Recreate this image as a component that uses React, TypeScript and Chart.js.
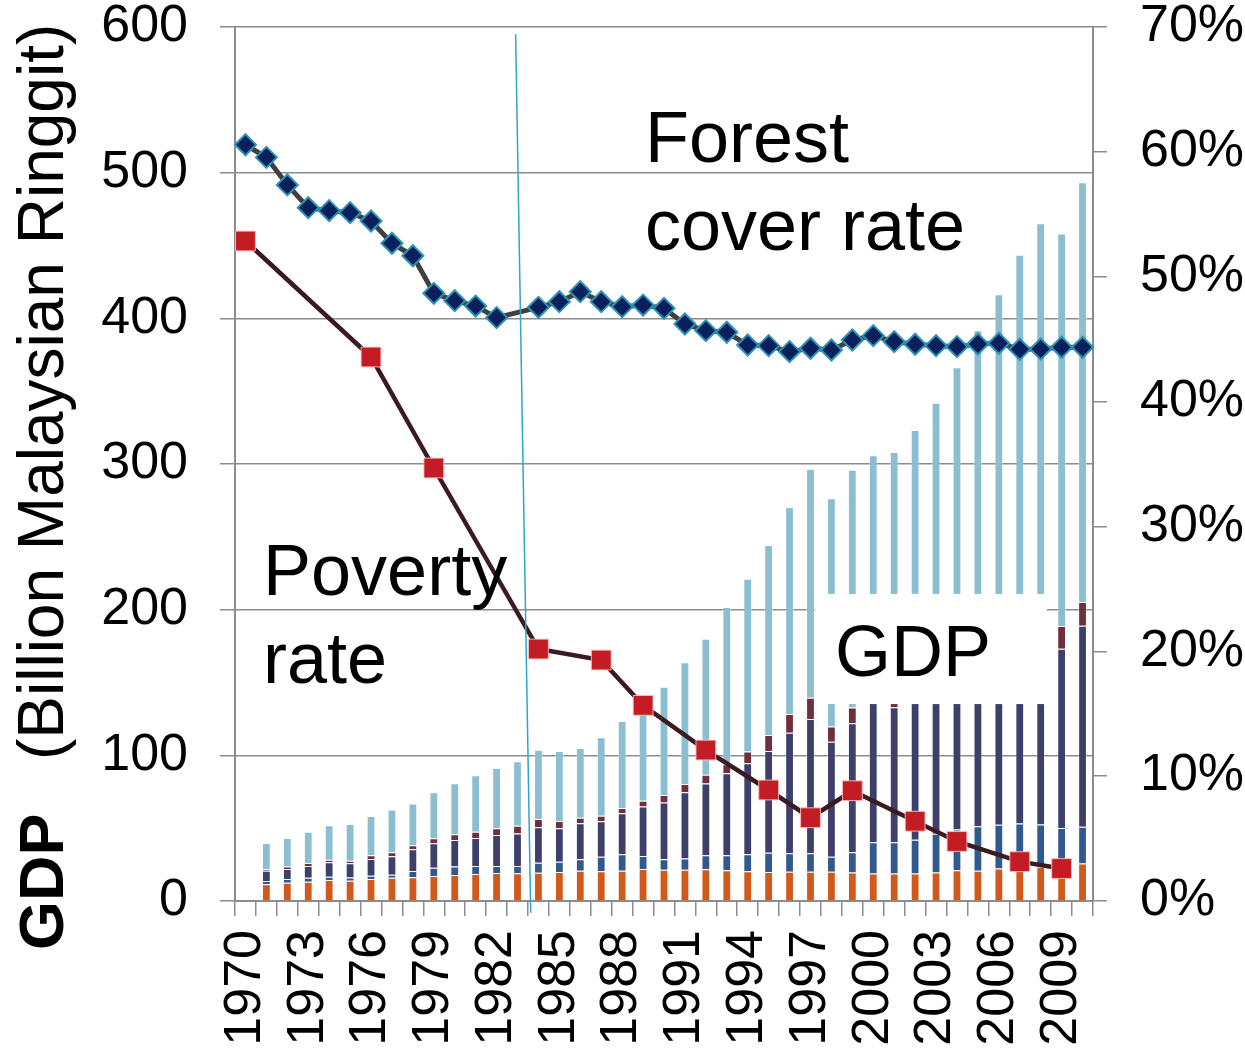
import React, { useEffect, useRef } from 'react';
import { Chart, registerables } from 'chart.js';

Chart.register(...registerables);

// ---------- DATA ----------
const years = [
  '1970', '1971', '1972', '1973', '1974', '1975', '1976', '1977', '1978', '1979',
  '1980', '1981', '1982', '1983', '1984', '1985', '1986', '1987', '1988', '1989',
  '1990', '1991', '1992', '1993', '1994', '1995', '1996', '1997', '1998', '1999',
  '2000', '2001', '2002', '2003', '2004', '2005', '2006', '2007', '2008', '2009', '2010',
];

const shownYearLabels = [
  '1970', '1973', '1976', '1979', '1982', '1985', '1988', '1991', '1994', '1997',
  '2000', '2003', '2006', '2009',
];

// GDP by sector, billion RM (stacked bars, 1971-2010)
const gdpAgriculture = [
  null, 11.5, 12.6, 13.2, 14.4, 13.9, 15.1, 16.0, 16.3, 17.2,
  17.9, 18.5, 19.2, 19.0, 19.4, 19.9, 20.8, 20.4, 20.8, 22.0,
  21.5, 21.5, 21.8, 21.1, 20.4, 19.9, 20.1, 20.0, 20.0, 19.5,
  18.8, 18.8, 18.8, 19.5, 21.1, 20.7, 22.3, 23.5, 23.5, 22.3, 25.8,
];
const gdpMining = [
  null, 2.3, 2.5, 2.8, 2.3, 2.3, 2.3, 2.1, 4.3, 5.7,
  5.7, 5.5, 4.8, 5.0, 6.9, 7.1, 7.8, 10.0, 11.3, 8.9,
  7.1, 7.6, 9.6, 10.3, 11.7, 13.3, 12.6, 12.8, 10.4, 13.9,
  21.6, 21.6, 23.2, 26.7, 27.9, 30.7, 30.1, 29.7, 29.0, 27.9, 25.1,
];
const gdpManufacturing = [
  null, 6.9, 6.9, 8.0, 9.9, 9.8, 11.5, 12.6, 14.9, 16.7,
  18.3, 19.2, 21.3, 22.4, 24.3, 22.9, 24.7, 24.3, 28.1, 33.9,
  39.1, 45.6, 49.2, 56.3, 62.5, 69.8, 82.8, 92.2, 79.0, 88.7,
  98.6, 92.6, 108.0, 118.8, 131.0, 136.6, 139.6, 141.0, 143.5, 123.0, 138.0,
];
const gdpConstruction = [
  null, 1.2, 1.6, 2.1, 1.8, 1.6, 2.5, 2.7, 2.7, 3.4,
  3.9, 4.3, 4.6, 5.2, 5.7, 5.0, 3.8, 3.8, 3.6, 4.1,
  5.0, 5.7, 6.0, 6.2, 8.0, 11.0, 12.8, 14.6, 10.4, 10.8,
  9.0, 10.0, 10.0, 12.0, 13.0, 14.0, 14.0, 13.0, 12.0, 15.6, 16.3,
];
const gdpServices = [
  null, 17.9, 19.7, 21.5, 23.6, 25.2, 27.0, 29.5, 28.8, 31.6,
  35.0, 38.9, 41.4, 44.4, 47.6, 48.1, 48.0, 54.0, 59.7, 65.1,
  74.3, 83.5, 93.4, 108.0, 118.6, 130.4, 142.1, 157.1, 156.7, 163.2,
  158.0, 165.2, 163.3, 165.1, 173.4, 189.8, 210.5, 236.5, 257.2, 269.4, 288.2,
];

// Forest cover rate (%)
const forestCover = [
  60.57, 59.56, 57.35, 55.53, 55.29, 55.13, 54.46, 52.68, 51.68, 48.67,
  48.08, 47.65, 46.72, null, 47.55, 48.00, 48.80, 48.00, 47.60, 47.73,
  47.47, 46.21, 45.68, 45.55, 44.53, 44.48, 44.00, 44.27, 44.13, 44.93,
  45.28, 44.80, 44.59, 44.48, 44.40, 44.61, 44.67, 44.19, 44.21, 44.35, 44.35,
];

// Poverty rate (%)
const povertyRate = [
  52.86, null, null, null, null, null, 43.57, null, null, 34.68,
  null, null, null, null, 20.18, null, null, 19.30, null, 15.67,
  null, null, 12.09, null, null, 8.89, null, 6.67, null, 8.83,
  null, null, 6.39, null, 4.77, null, null, 3.15, null, 2.60, null,
];

const FONT = '"Liberation Sans", Arial, Helvetica, sans-serif';
const GRID = '#8c8c8c';
const TICK_SIZE = 52;
const PLOT_TOP = 27; // wanted top of plot area on the page

const overlayPlugin = {
  id: 'overlay',
  afterDraw(chart: any) {
    const { ctx, chartArea, scales } = chart;
    const xs = scales.x;
    const ys = scales.y;
    ctx.save();

    // White label box for "GDP"
    const bx0 = xs.getPixelForValue(27.21);
    const bx1 = xs.getPixelForValue(38.3);
    const by0 = ys.getPixelForValue(210.8);
    const by1 = ys.getPixelForValue(135.2);
    ctx.fillStyle = '#ffffff';
    ctx.fillRect(bx0, by0, bx1 - bx0, by1 - by0);

    ctx.fillStyle = '#000000';
    ctx.textAlign = 'left';
    ctx.textBaseline = 'alphabetic';
    ctx.font = `72px ${FONT}`;
    ctx.fillText('GDP', xs.getPixelForValue(28.17), ys.getPixelForValue(154.5));
    ctx.fillText('Forest', xs.getPixelForValue(19.09), ys.getPixelForValue(507.3));
    ctx.fillText('cover rate', xs.getPixelForValue(19.09), ys.getPixelForValue(446.9));
    ctx.fillText('Poverty', xs.getPixelForValue(0.84), ys.getPixelForValue(210.1));
    ctx.fillText('rate', xs.getPixelForValue(0.84), ys.getPixelForValue(149.7));

    // Thin divider line
    ctx.strokeStyle = '#2ea6cc';
    ctx.lineWidth = 1.5;
    ctx.beginPath();
    ctx.moveTo(xs.getPixelForValue(12.91), ys.getPixelForValue(595));
    ctx.lineTo(xs.getPixelForValue(13.63), ys.getPixelForValue(-8));
    ctx.stroke();

    // Y axis title (rotated)
    ctx.fillStyle = '#000000';
    ctx.save();
    ctx.translate(63, chartArea.bottom + 49);
    ctx.rotate(-Math.PI / 2);
    ctx.font = `bold 63px ${FONT}`;
    ctx.fillText('GDP', 0, 0);
    ctx.restore();
    ctx.save();
    ctx.translate(63, chartArea.bottom - 141);
    ctx.rotate(-Math.PI / 2);
    ctx.font = `64px ${FONT}`;
    ctx.fillText('(Billion Malaysian Ringgit)', 0, 0);
    ctx.restore();

    ctx.restore();
  },
};

function barSet(label: string, data: (number | null)[], color: string) {
  return {
    type: 'bar' as const,
    label,
    data,
    backgroundColor: color,
    borderColor: 'rgba(255,255,255,0.35)',
    borderWidth: 1,
    yAxisID: 'y',
    stack: 'gdp',
    order: 2,
    barPercentage: 0.42,
    categoryPercentage: 1,
  };
}

export default function App() {
  const canvasRef = useRef<HTMLCanvasElement | null>(null);
  const [shift, setShift] = React.useState(30);

  useEffect(() => {
    if (!canvasRef.current) return;
    const chart = new Chart(canvasRef.current, {
      type: 'bar',
      data: {
        labels: years,
        datasets: [
          {
            type: 'line',
            label: 'Poverty rate',
            data: povertyRate,
            yAxisID: 'y1',
            borderColor: '#3b1a21',
            borderWidth: 4.5,
            tension: 0,
            spanGaps: true,
            pointStyle: 'rect',
            pointRadius: 14,
            pointBackgroundColor: '#c41c24',
            pointBorderColor: 'rgba(255,190,190,0.9)',
            pointBorderWidth: 1,
            order: 0,
          } as any,
          {
            type: 'line',
            label: 'Forest cover rate',
            data: forestCover,
            yAxisID: 'y1',
            borderColor: '#404040',
            borderWidth: 5,
            tension: 0,
            spanGaps: true,
            pointStyle: 'rectRot',
            pointRadius: 10.5,
            pointBackgroundColor: '#0a1f5c',
            pointBorderColor: '#2b93b4',
            pointBorderWidth: 2,
            order: 1,
          } as any,
          barSet('Agriculture', gdpAgriculture, '#d0591b'),
          barSet('Mining', gdpMining, '#32598e'),
          barSet('Manufacturing', gdpManufacturing, '#3e406b'),
          barSet('Construction', gdpConstruction, '#6f2f3d'),
          barSet('Services', gdpServices, '#8bbed1'),
        ],
      },
      options: {
        responsive: false,
        animation: false,
        layout: { padding: { top: 0, left: 0, right: 0, bottom: 0 } },
        plugins: {
          legend: { display: false },
          tooltip: { enabled: false },
          title: { display: false },
        },
        scales: {
          x: {
            type: 'category',
            offset: true,
            grid: {
              display: true,
              offset: true,
              drawOnChartArea: false,
              drawTicks: true,
              tickLength: 15,
              color: GRID,
              lineWidth: 1.5,
            },
            border: { display: true, color: GRID, width: 2 },
            ticks: {
              autoSkip: false,
              minRotation: 90,
              maxRotation: 90,
              padding: 14,
              color: '#000',
              font: { family: FONT, size: TICK_SIZE, lineHeight: 1 },
              callback: function (this: any, _v: any, index: number) {
                const lab = years[index];
                return shownYearLabels.includes(lab) ? lab : '';
              },
            },
            afterFit: (scale: any) => {
              scale.height = 151;
            },
          },
          y: {
            type: 'linear',
            position: 'left',
            stacked: true,
            min: 0,
            max: 600,
            ticks: {
              stepSize: 100,
              padding: 32,
              color: '#000',
              font: { family: FONT, size: TICK_SIZE, lineHeight: 1 },
            },
            grid: {
              color: GRID,
              lineWidth: 1.5,
              drawTicks: true,
              tickLength: 15,
            },
            border: { display: true, color: GRID, width: 2 },
            afterFit: (scale: any) => {
              scale.width = 235;
            },
          },
          y1: {
            type: 'linear',
            position: 'right',
            min: 0,
            max: 70,
            ticks: {
              stepSize: 10,
              padding: 33,
              color: '#000',
              font: { family: FONT, size: TICK_SIZE, lineHeight: 1 },
              callback: (v: any) => `${v}%`,
            },
            grid: {
              drawOnChartArea: false,
              drawTicks: true,
              tickLength: 14,
              color: GRID,
              lineWidth: 1.5,
            },
            border: { display: true, color: GRID, width: 2 },
            afterFit: (scale: any) => {
              scale.width = 152;
            },
          },
        },
      },
      plugins: [overlayPlugin],
    } as any);
    const top = chart.chartArea ? chart.chartArea.top : PLOT_TOP + 30;
    const wanted = Math.round(top - PLOT_TOP);
    if (wanted !== shift) setShift(wanted);
    return () => chart.destroy();
  }, [shift]);

  return (
    <div style={{ position: 'absolute', left: 0, top: 0, width: 1245, height: 1052, overflow: 'hidden', background: '#fff' }}>
      <canvas
        key={shift}
        ref={canvasRef}
        width={1245}
        height={1052 + shift}
        style={{ display: 'block', position: 'absolute', left: 0, top: -shift }}
      />
    </div>
  );
}
